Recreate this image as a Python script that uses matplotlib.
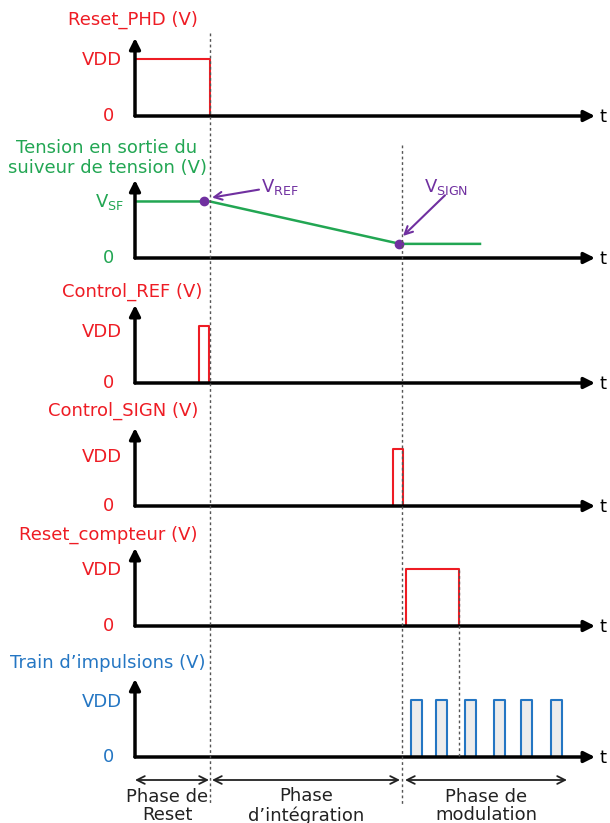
import matplotlib.pyplot as plt

# time axis in arbitrary units (0 = origin, 460 = arrow tip)
T_MAX = 460
t_reset_end = 75
t_integ_end = 267
t_cnt_end = 324

# Reset_PHD
phd_t = [0, 75, 75]
phd_v = [1, 1, 0]
# sortie du suiveur de tension
vsf_t = [0, 75, 265, 345]
vsf_v = [1, 1, 0.25, 0.25]
dots_t = [69, 264]
dots_v = [1, 0.25]
# Control_REF / Control_SIGN / Reset_compteur
ref_t = [64, 64, 74, 74]
sign_t = [258, 258, 268, 268]
cnt_t = [271, 271, 324, 324]
pulse_v = [0, 1, 1, 0]
# train d'impulsions
train_start = [276, 301, 330, 359, 386, 416]
train_width = 11

labels = ["Reset_PHD (V)", "Tension en sortie du\nsuiveur de tension (V)",
          "Control_REF (V)", "Control_SIGN (V)", "Reset_compteur (V)",
          "Train d\u2019impulsions (V)"]
phases = ["Phase de\nReset", "Phase\nd\u2019int\u00e9gration", "Phase de\nmodulation"]
phase_spans = [(0, 74), (77, 265), (270, 432)]

RED = '#ee1c24'
GREEN = '#22a653'
BLUE = '#2476c3'
PURPLE = '#7030a0'

W, H = 610, 823
fig = plt.figure(figsize=(W / 100, H / 100), dpi=100)
plt.rcParams['font.family'] = ['DejaVu Sans']
FS = 13

# rows (pixels) of the zero line of each panel
zero_rows = [116, 258, 383, 506, 626, 757]
vdd_rows = [60, 202, 332, 457, 570, 702]
label_pos = [(133, 20), (107, 158), (132, 292), (123, 411), (108, 535), (108, 663)]
colors = [RED, GREEN, RED, RED, RED, BLUE]
TOP = 1.38
PH = 78  # panel height in pixels
UNIT = PH / TOP  # pixels per VDD


def fx(x):
    return x / W


def fy(y):
    return 1 - y / H


axes = []
for i, z in enumerate(zero_rows):
    ax = fig.add_axes([fx(135), fy(z), 460 / W, PH / H])
    ax.set_xlim(0, T_MAX)
    ax.set_ylim(0, TOP)
    ax.axis('off')
    # axis arrows
    for tip in [(1, 0), (0, 1)]:
        ax.annotate('', xy=tip, xytext=(0, 0), xycoords='axes fraction',
                    arrowprops=dict(arrowstyle='-|>', lw=2.5, color='black',
                                    mutation_scale=16, shrinkA=0, shrinkB=0))
    fig.text(fx(600), fy(z + 1), 't', fontsize=FS, ha='left', va='center')
    fig.text(fx(label_pos[i][0]), fy(label_pos[i][1]), labels[i], fontsize=FS,
             color=colors[i], ha='center', va='center', linespacing=1.1)
    top_lbl = '$\\mathregular{V_{SF}}$' if i == 1 else 'VDD'
    fig.text(fx(124 if i == 1 else 122), fy(vdd_rows[i]), top_lbl, fontsize=FS,
             color=colors[i], ha='right', va='center')
    fig.text(fx(114), fy(z), '0', fontsize=FS, color=colors[i],
             ha='right', va='center')
    axes.append(ax)

axes[0].plot(phd_t, phd_v, color=RED, lw=1.5)
axes[1].plot(vsf_t, vsf_v, color=GREEN, lw=1.8)
axes[1].plot(dots_t, dots_v, 'o', color=PURPLE, ms=6, zorder=5)
axes[2].plot(ref_t, pulse_v, color=RED, lw=1.5)
axes[3].plot(sign_t, pulse_v, color=RED, lw=1.5)
axes[4].plot(cnt_t, pulse_v, color=RED, lw=1.5)
for s in train_start:
    axes[5].fill_between([s, s + train_width], 0, 1, color='#ececec', lw=0)
    axes[5].plot([s, s, s + train_width, s + train_width], pulse_v,
                 color=BLUE, lw=1.5)

# annotations V_REF / V_SIGN
axes[1].text(126, 1.25, '$\\mathregular{V_{REF}}$', fontsize=FS, color=PURPLE,
             ha='left', va='center')
axes[1].annotate('', xy=(77, 1.07), xytext=(124, 1.21),
                 arrowprops=dict(arrowstyle='->', color=PURPLE, lw=1.5,
                                 shrinkA=0, shrinkB=0, mutation_scale=14))
axes[1].text(289, 1.25, '$\\mathregular{V_{SIGN}}$', fontsize=FS, color=PURPLE,
             ha='left', va='center')
axes[1].annotate('', xy=(268, 0.39), xytext=(310, 1.11),
                 arrowprops=dict(arrowstyle='->', color=PURPLE, lw=1.5,
                                 shrinkA=0, shrinkB=0, mutation_scale=14))

# overlay for dashed lines and phases
ov = fig.add_axes([0, 0, 1, 1], facecolor='none')
ov.set_xlim(-135, W - 135)
ov.set_ylim(H, 0)
ov.axis('off')
ov.vlines(t_reset_end, 33, 805, color='#555555', lw=1, linestyles=(0, (2, 2)))
ov.vlines(t_integ_end, 145, 805, color='#555555', lw=1, linestyles=(0, (2, 2)))
ov.vlines(t_cnt_end, 570, 757, color='#555555', lw=1, linestyles=(0, (2, 2)))

for (a, b), name in zip(phase_spans, phases):
    ov.annotate('', xy=(b, 780), xytext=(a, 780),
                arrowprops=dict(arrowstyle='<->', color='#222222', lw=1.3,
                                shrinkA=0, shrinkB=0, mutation_scale=14))
    ov.text((a + b) / 2 + (-5 if name.endswith('Reset') else 0), 806, name,
            fontsize=FS, color='#222222', ha='center', va='center',
            linespacing=1.05)

fig.savefig('out.png', dpi=100)
